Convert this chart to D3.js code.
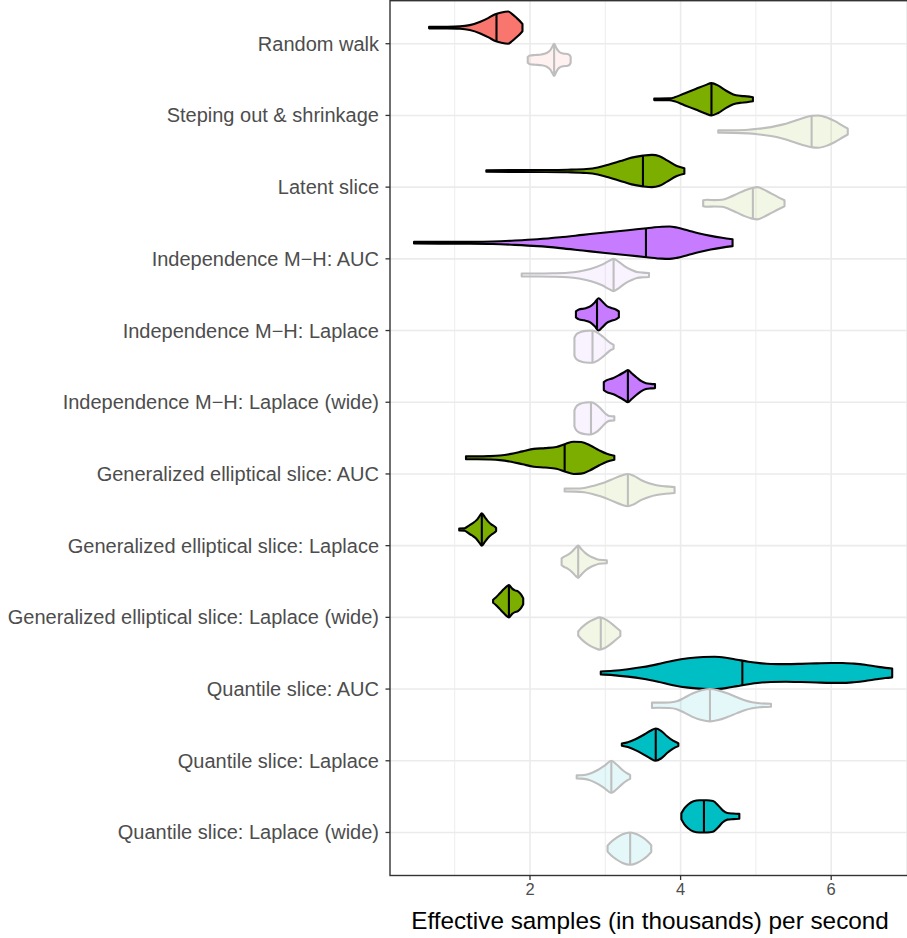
<!DOCTYPE html>
<html><head><meta charset="utf-8">
<script src="https://cdn.jsdelivr.net/npm/d3@7"></script>
<style>body{margin:0;background:#fff}svg{display:block}</style>
</head><body><svg id="c" width="907" height="938"></svg>
<script>
const categories = [
  "Random walk",
  "Steping out & shrinkage",
  "Latent slice",
  "Independence M\u2212H: AUC",
  "Independence M\u2212H: Laplace",
  "Independence M\u2212H: Laplace (wide)",
  "Generalized elliptical slice: AUC",
  "Generalized elliptical slice: Laplace",
  "Generalized elliptical slice: Laplace (wide)",
  "Quantile slice: AUC",
  "Quantile slice: Laplace",
  "Quantile slice: Laplace (wide)"
];
const categoryColors = ["#F8766D","#7CAE00","#7CAE00","#C77CFF","#C77CFF","#C77CFF",
                        "#7CAE00","#7CAE00","#7CAE00","#00BFC4","#00BFC4","#00BFC4"];
const xMajorTicks = [2, 4, 6];
const xMinorTicks = [1, 3, 5, 7];
const xTitle = "Effective samples (in thousands) per second";

// violin profiles: [value (thousands/s), relative density] — highlighted series
const densityMain = [
  [[0.66,0.8],[0.9,0.9],[1.07,1.2],[1.2,2.5],[1.34,6],[1.45,10],[1.53,13.4],[1.62,15.5],[1.71,16.5],[1.76,14],[1.82,10],[1.88,5.5],[1.90,3.7]],
  [[3.65,0.8],[3.85,1],[3.92,2],[4.05,6],[4.2,10.5],[4.33,14.5],[4.41,16.5],[4.5,14],[4.6,9],[4.7,5],[4.8,3.5],[4.88,3],[4.96,2]],
  [[1.42,0.8],[1.8,0.9],[2.2,1.0],[2.5,1.3],[2.75,2],[2.9,3.5],[3.05,6.5],[3.2,10],[3.35,13.5],[3.5,15.5],[3.62,16.3],[3.72,15],[3.82,10.7],[3.95,5],[4.05,2.8]],
  [[0.46,0.8],[0.8,0.9],[1.2,1.0],[1.5,1.3],[1.8,2.2],[2.1,3.5],[2.4,5.5],[2.7,8],[3.0,10.5],[3.3,12.8],[3.55,14.8],[3.75,16.3],[3.85,16.5],[3.95,15.5],[4.1,12.5],[4.25,9.5],[4.4,7],[4.55,5],[4.69,3.5]],
  [[2.61,3],[2.65,5],[2.72,6],[2.8,8],[2.86,12],[2.91,16.3],[2.96,13],[3.02,8.5],[3.08,6.5],[3.14,5],[3.18,3]],
  [[2.98,4],[3.02,6],[3.1,8],[3.18,11],[3.25,14],[3.30,16.3],[3.35,13],[3.42,8.5],[3.48,5],[3.54,3],[3.6,2.3],[3.66,2]],
  [[1.15,1.5],[1.3,1.5],[1.45,1.7],[1.6,2.3],[1.75,4],[1.9,6.5],[2.05,9],[2.2,9.8],[2.35,11],[2.47,14],[2.58,16.3],[2.68,16],[2.8,12.5],[2.92,7.5],[3.02,4],[3.12,2]],
  [[1.06,1],[1.13,1.2],[1.18,3.5],[1.23,6],[1.29,9.5],[1.33,13.5],[1.36,16.3],[1.40,12.5],[1.44,8.5],[1.49,5],[1.53,3],[1.55,1.5]],
  [[1.51,1.5],[1.55,4],[1.6,8],[1.65,12],[1.70,15.5],[1.72,16.3],[1.76,13],[1.8,11],[1.84,10],[1.88,7],[1.91,3]],
  [[2.94,1.5],[3.1,2.2],[3.3,3.8],[3.5,6],[3.7,9],[3.9,12.5],[4.1,15],[4.3,16.3],[4.45,16.5],[4.6,15.5],[4.75,13.5],[4.9,11.5],[5.05,10],[5.2,9.2],[5.4,9],[5.6,9.3],[5.8,9.8],[6.0,10.2],[6.15,10.2],[6.3,9.5],[6.45,8.3],[6.6,6.5],[6.72,5.2],[6.81,4.5]],
  [[3.22,1.2],[3.3,2.5],[3.4,5.5],[3.5,9.5],[3.6,14],[3.67,16.3],[3.74,14],[3.82,8.5],[3.9,4],[3.97,1.5]],
  [[4.01,3],[4.05,8],[4.1,12],[4.17,15.3],[4.25,16.3],[4.35,16.3],[4.43,15.5],[4.5,11],[4.56,6],[4.62,3.3],[4.7,2.8],[4.78,2.5]]
];
const medianMain = [1.555, 4.41, 3.50, 3.54, 2.89, 3.30, 2.46, 1.36, 1.72, 4.82, 3.67, 4.31];

// violin profiles — faded comparison series
const densityRef = [
  [[1.97,3],[2.0,4.5],[2.07,5],[2.15,5.5],[2.22,7],[2.27,10],[2.30,14],[2.32,16.5],[2.35,12],[2.39,8],[2.44,6.5],[2.5,6],[2.53,4.5],[2.54,3]],
  [[4.50,1.2],[4.7,1.3],[4.9,1.8],[5.05,3],[5.2,4.5],[5.35,7],[5.5,10.5],[5.62,13.5],[5.75,16],[5.83,16.3],[5.95,14],[6.05,10.5],[6.15,6],[6.22,3]],
  [[4.30,3],[4.35,3.5],[4.45,3.2],[4.55,3.5],[4.65,6],[4.75,9.5],[4.85,13],[4.95,15.5],[5.02,16.3],[5.1,14],[5.2,10],[5.3,6],[5.38,3]],
  [[1.89,1.5],[2.1,1.5],[2.3,1.7],[2.5,2.2],[2.65,3.5],[2.8,6],[2.95,10],[3.05,14],[3.11,16],[3.18,13],[3.27,8],[3.35,5],[3.42,3],[3.5,2.3],[3.58,2]],
  [[2.59,9],[2.61,12],[2.66,14.5],[2.74,16],[2.83,16.3],[2.9,14],[2.97,10],[3.03,6],[3.07,3.5],[3.11,2]],
  [[2.59,8],[2.61,11.5],[2.66,14.5],[2.74,16],[2.81,16.3],[2.88,14],[2.95,9],[3.0,5],[3.05,2.5],[3.12,2]],
  [[2.46,1.5],[2.6,1.6],[2.72,2.2],[2.85,4.5],[3.0,8],[3.12,12],[3.22,15],[3.30,16.5],[3.38,14.5],[3.48,10],[3.58,7],[3.68,5],[3.8,3.8],[3.92,3]],
  [[2.42,3.5],[2.45,5],[2.5,7],[2.56,10.5],[2.61,14.5],[2.64,16.3],[2.68,13],[2.74,8.5],[2.8,5.5],[2.86,3.5],[2.92,2],[3.02,1.5]],
  [[2.64,2],[2.68,5.5],[2.74,9.5],[2.8,12.5],[2.87,15],[2.92,16.3],[2.97,15.5],[3.03,13],[3.1,9],[3.16,5],[3.2,2.5]],
  [[3.62,2.8],[3.7,2.6],[3.85,2.8],[3.95,4],[4.05,7.5],[4.15,11.5],[4.28,15],[4.39,16.3],[4.5,15],[4.62,12],[4.75,8],[4.85,5],[4.95,3],[5.05,2],[5.2,1.5]],
  [[2.62,1.5],[2.72,2],[2.8,3.5],[2.9,7],[3.0,12],[3.08,16.3],[3.15,12.5],[3.22,7.5],[3.28,4],[3.33,2]],
  [[3.03,3],[3.08,7],[3.15,11],[3.23,14.5],[3.33,16.3],[3.42,14.5],[3.5,11],[3.56,7.5],[3.61,3.5]]
];
const medianRef = [2.32, 5.74, 4.96, 3.11, 2.83, 2.81, 3.30, 2.64, 2.94, 4.39, 3.08, 3.33];

// ---------- drawing ----------
const svg = d3.select("#c");
const font = "'Liberation Sans', Arial, Helvetica, sans-serif";
const P = {left: 390, right: 912, top: 0.7, bottom: 875.5};

const x = d3.scaleLinear().domain([0, 7]).range([379.4, 906.5]);
const y = d3.scalePoint().domain(categories).range([P.top, P.bottom]).padding(0.6);
const step = y.step();
const halfW = step * 0.225;
const offset = step * 0.225;

svg.append("rect").attr("x", P.left).attr("y", P.top)
  .attr("width", P.right - P.left).attr("height", P.bottom - P.top).attr("fill", "#fff");

const grid = svg.append("g");
grid.selectAll("line.minor").data(xMinorTicks).join("line")
  .attr("x1", d => x(d)).attr("x2", d => x(d)).attr("y1", P.top).attr("y2", P.bottom)
  .attr("stroke", "#EBEBEB").attr("stroke-width", 0.9);
grid.selectAll("line.majx").data(xMajorTicks).join("line")
  .attr("x1", d => x(d)).attr("x2", d => x(d)).attr("y1", P.top).attr("y2", P.bottom)
  .attr("stroke", "#EBEBEB").attr("stroke-width", 1.6);
grid.selectAll("line.majy").data(categories).join("line")
  .attr("x1", P.left).attr("x2", P.right).attr("y1", d => y(d)).attr("y2", d => y(d))
  .attr("stroke", "#EBEBEB").attr("stroke-width", 1.6);

function interp(profile, v) {
  for (let i = 0; i < profile.length - 1; i++) {
    const a = profile[i], b = profile[i + 1];
    if (v >= a[0] && v <= b[0]) return a[1] + (b[1] - a[1]) * (v - a[0]) / (b[0] - a[0]);
  }
  return 0;
}

function drawViolin(g, profile, median, cy, fill, fillOpacity, stroke) {
  const maxD = d3.max(profile, d => d[1]);
  const w = d3.scaleLinear().domain([0, maxD]).range([0, halfW]);
  const area = d3.area().x(d => x(d[0]))
    .y0(d => cy - w(d[1])).y1(d => cy + w(d[1])).curve(d3.curveMonotoneX);
  g.append("path").attr("d", area(profile))
    .attr("fill", fill).attr("fill-opacity", fillOpacity)
    .attr("stroke", stroke).attr("stroke-width", 2.1).attr("stroke-linejoin", "round");
  const hm = w(interp(profile, median));
  g.append("line").attr("x1", x(median)).attr("x2", x(median))
    .attr("y1", cy - hm).attr("y2", cy + hm)
    .attr("stroke", stroke).attr("stroke-width", 2.1);
}

const vg = svg.append("g");
categories.forEach((c, i) => {
  drawViolin(vg, densityMain[i], medianMain[i], y(c) - offset, categoryColors[i], 1, "#000");
  drawViolin(vg, densityRef[i], medianRef[i], y(c) + offset, categoryColors[i], 0.1, "#BEBEBE");
});

svg.append("rect").attr("x", P.left).attr("y", P.top)
  .attr("width", P.right - P.left).attr("height", P.bottom - P.top)
  .attr("fill", "none").attr("stroke", "#333333").attr("stroke-width", 1.4);

// y axis
const ya = svg.append("g");
ya.selectAll("line").data(categories).join("line")
  .attr("x1", P.left - 4.5).attr("x2", P.left).attr("y1", d => y(d)).attr("y2", d => y(d))
  .attr("stroke", "#333333").attr("stroke-width", 1.3);
ya.selectAll("text").data(categories).join("text")
  .attr("x", P.left - 11).attr("y", d => y(d)).attr("dy", "0.35em")
  .attr("text-anchor", "end").attr("font-family", font).attr("font-size", 20)
  .attr("fill", "#4D4D4D").text(d => d);

// x axis
const xa = svg.append("g");
xa.selectAll("line").data(xMajorTicks).join("line")
  .attr("x1", d => x(d)).attr("x2", d => x(d)).attr("y1", P.bottom).attr("y2", P.bottom + 4.5)
  .attr("stroke", "#333333").attr("stroke-width", 1.3);
xa.selectAll("text").data(xMajorTicks).join("text")
  .attr("x", d => x(d)).attr("y", 895).attr("text-anchor", "middle")
  .attr("font-family", font).attr("font-size", 16.5).attr("fill", "#4D4D4D").text(d => d);

svg.append("text").attr("x", (P.left + P.right) / 2 - 1).attr("y", 929)
  .attr("text-anchor", "middle").attr("font-family", font).attr("font-size", 24.3)
  .attr("fill", "#000").text(xTitle);
</script></body></html>
